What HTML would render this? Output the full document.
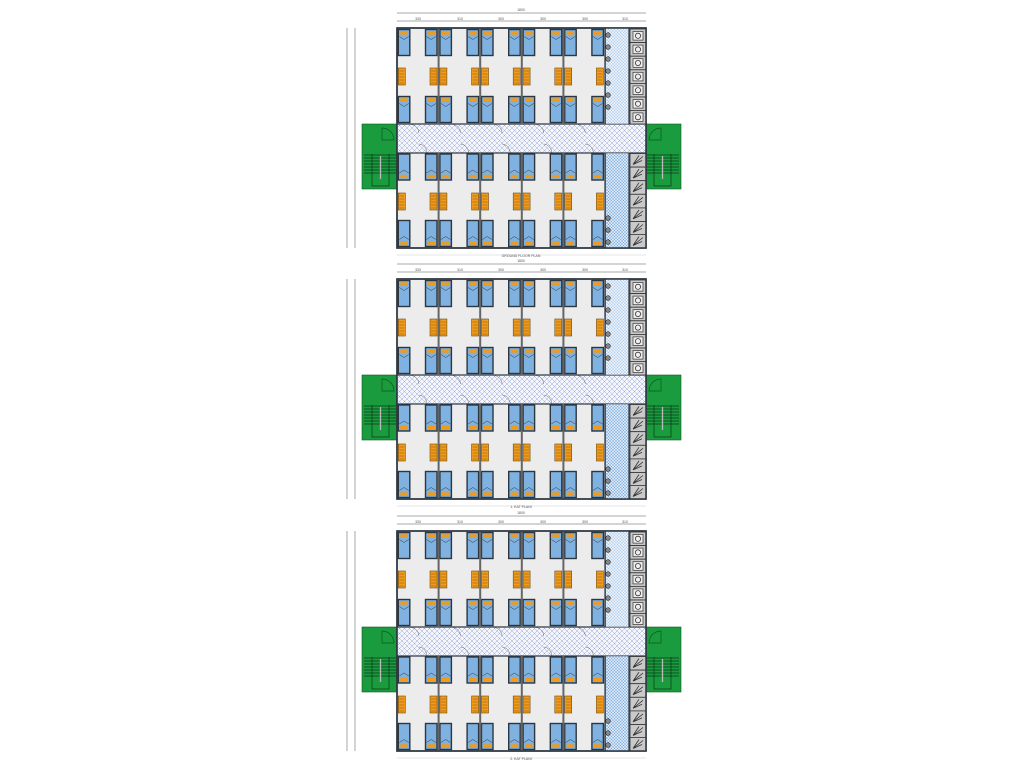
<!DOCTYPE html>
<html><head><meta charset="utf-8"><style>
html,body{margin:0;padding:0;background:#fff;width:1024px;height:768px;overflow:hidden}
svg{display:block}
text{font-family:"Liberation Sans",sans-serif;fill:#555}
</style></head><body>
<svg width="1024" height="768" viewBox="0 0 1024 768" xmlns="http://www.w3.org/2000/svg">
<defs>
<pattern id="xh" width="5" height="5" patternUnits="userSpaceOnUse">
<rect width="5" height="5" fill="#f4f6fb"/>
<path d="M0 0L5 5M5 0L0 5" stroke="#9aa8d6" stroke-width="0.5"/>
</pattern>
<pattern id="dt" width="3" height="3" patternUnits="userSpaceOnUse">
<rect width="3" height="3" fill="#d8e8f8"/>
<path d="M0 0L3 3M3 0L0 3" stroke="#6fa0d8" stroke-width="0.45"/>
</pattern>
<pattern id="dt2" width="3" height="3" patternUnits="userSpaceOnUse">
<rect width="3" height="3" fill="#e8f1fb"/>
<path d="M0 0L3 3M3 0L0 3" stroke="#9fc0e6" stroke-width="0.4"/>
</pattern>
<g id="bedT">
<rect x="0" y="0" width="11.5" height="26" fill="#7fb2e0" stroke="#2c3640" stroke-width="1.4"/>
<rect x="2" y="1.8" width="7.5" height="3.4" fill="#f29a1a"/>
<path d="M1 7L5.7 10L10.5 7" stroke="#2c3640" stroke-width="0.5" fill="none"/>
</g>
<g id="bedB">
<rect x="0" y="0" width="11.5" height="26" fill="#7fb2e0" stroke="#2c3640" stroke-width="1.4"/>
<rect x="2" y="20.8" width="7.5" height="3.4" fill="#f29a1a"/>
<path d="M1 19L5.7 16L10.5 19" stroke="#2c3640" stroke-width="0.5" fill="none"/>
</g>
<g id="ward">
<rect x="0" y="0" width="7" height="17" fill="#f29a1a" stroke="#6b4a10" stroke-width="0.6"/>
<path d="M1 3H6M1 6H6M1 9H6M1 12H6M1 15H6" stroke="#6b4a10" stroke-width="0.4"/>
</g>
<g id="room">
<use href="#bedT" x="1.3" y="1.5"/><use href="#bedT" x="28.5" y="1.5"/>
<use href="#ward" x="1.3" y="40"/><use href="#ward" x="33" y="40"/>
<use href="#bedT" x="1.3" y="68.5"/><use href="#bedT" x="28.5" y="68.5"/>
<use href="#bedB" x="1.3" y="126"/><use href="#bedB" x="28.5" y="126"/>
<use href="#ward" x="1.3" y="165"/><use href="#ward" x="33" y="165"/>
<use href="#bedB" x="1.3" y="192.5"/><use href="#bedB" x="28.5" y="192.5"/>
<path d="M14 96.5A9 9 0 0 1 22 105M30 124.5A9 9 0 0 0 22 116" stroke="#666" stroke-width="0.5" fill="none"/>
</g>
<g id="wc">
<rect x="0" y="0" width="16" height="13.6" fill="#c9c9c9" stroke="#333" stroke-width="0.8"/>
<rect x="3" y="2.5" width="10" height="8.6" fill="#eee" stroke="#333" stroke-width="0.7"/>
<circle cx="8" cy="6.8" r="2.6" fill="none" stroke="#333" stroke-width="0.8"/>
</g>
<g id="wc2">
<rect x="0" y="0" width="16" height="13.6" fill="#c9c9c9" stroke="#333" stroke-width="0.8"/>
<path d="M3 11L13 3M3 11L12 7M3 11L9 2" stroke="#333" stroke-width="0.8"/>
</g>
<g id="stair">
<rect x="0" y="0" width="36" height="65" fill="#1a9b3e" stroke="#0c5a22" stroke-width="0.6"/>
<path d="M20 4A12 12 0 0 1 32 16H20Z" fill="none" stroke="#0c5a22" stroke-width="0.7"/>
<path d="M2 31H36M2 34H36M2 37H36M2 40H36M2 43H36M2 46H36M2 49H36" stroke="#0b3a18" stroke-width="0.7"/>
<path d="M10 30V62H27V30" fill="none" stroke="#0b3a18" stroke-width="0.7"/>
<path d="M18.5 32V55" stroke="#bbb" stroke-width="1.3"/>
</g>
<g id="plan">
<use href="#stair" x="-35" y="96"/>
<use href="#stair" x="249" y="96" transform="translate(533 0) scale(-1 1)"/>
<rect x="0" y="0" width="249" height="220" fill="#ececec" stroke="#2c3640" stroke-width="1.5"/>
<rect x="0" y="96" width="249" height="29" fill="url(#xh)" stroke="#2c3640" stroke-width="1.2"/>
<rect x="208.5" y="0" width="23.5" height="96" fill="url(#dt2)" stroke="#555" stroke-width="0.6"/>
<rect x="208.5" y="125" width="23.5" height="95" fill="url(#dt)" stroke="#555" stroke-width="0.6"/>
<g fill="#888" stroke="#222" stroke-width="0.6">
<circle cx="211" cy="7" r="2.3"/><circle cx="211" cy="19" r="2.3"/><circle cx="211" cy="31" r="2.3"/><circle cx="211" cy="43" r="2.3"/><circle cx="211" cy="55" r="2.3"/><circle cx="211" cy="67" r="2.3"/><circle cx="211" cy="79" r="2.3"/>
<circle cx="211" cy="190" r="2.3"/><circle cx="211" cy="202" r="2.3"/><circle cx="211" cy="214" r="2.3"/>
</g>
<use href="#wc" x="233" y="1"/><use href="#wc" x="233" y="14.6"/><use href="#wc" x="233" y="28.2"/><use href="#wc" x="233" y="41.8"/><use href="#wc" x="233" y="55.4"/><use href="#wc" x="233" y="69"/><use href="#wc" x="233" y="82.4"/>
<use href="#wc2" x="233" y="125.5"/><use href="#wc2" x="233" y="139.1"/><use href="#wc2" x="233" y="152.7"/><use href="#wc2" x="233" y="166.3"/><use href="#wc2" x="233" y="179.9"/><use href="#wc2" x="233" y="193.5"/><use href="#wc2" x="233" y="206.5"/>
<use href="#room" x="0"/><use href="#room" x="41.6"/><use href="#room" x="83.2"/><use href="#room" x="124.8"/><use href="#room" x="166.4"/>
<g stroke="#666" stroke-width="2">
<path d="M41.6 0V96M83.2 0V96M124.8 0V96M166.4 0V96M41.6 125V220M83.2 125V220M124.8 125V220M166.4 125V220"/>
</g>
<path d="M208 0V96M208 125V220M232 0V96M232 125V220" stroke="#2c3640" stroke-width="1.2"/>
<rect x="0" y="0" width="249" height="220" fill="none" stroke="#2c3640" stroke-width="1.5"/>
<path d="M0 -15H249M0 -7H249M-50 0V220M-42 0V220" stroke="#555" stroke-width="0.5"/>
<path d="M0 227H249" stroke="#bbb" stroke-width="0.4"/>
</g>
</defs>
<use href="#plan" x="397" y="28"/>
<use href="#plan" x="397" y="279"/>
<use href="#plan" x="397" y="531"/>
<g font-size="3.5" text-anchor="middle">
<text x="521" y="11">1800</text><text x="418" y="20">330</text><text x="460" y="20">310</text><text x="501" y="20">300</text><text x="543" y="20">300</text><text x="585" y="20">300</text><text x="625" y="20">310</text>
<text x="521" y="257">GROUND FLOOR PLAN</text>
<text x="521" y="262">1800</text><text x="418" y="271">330</text><text x="460" y="271">310</text><text x="501" y="271">300</text><text x="543" y="271">300</text><text x="585" y="271">300</text><text x="625" y="271">310</text>
<text x="521" y="508">1. KAT PLANI</text>
<text x="521" y="514">1800</text><text x="418" y="523">330</text><text x="460" y="523">310</text><text x="501" y="523">300</text><text x="543" y="523">300</text><text x="585" y="523">300</text><text x="625" y="523">310</text>
<text x="521" y="760">2. KAT PLANI</text>
</g>
</svg>
</body></html>
